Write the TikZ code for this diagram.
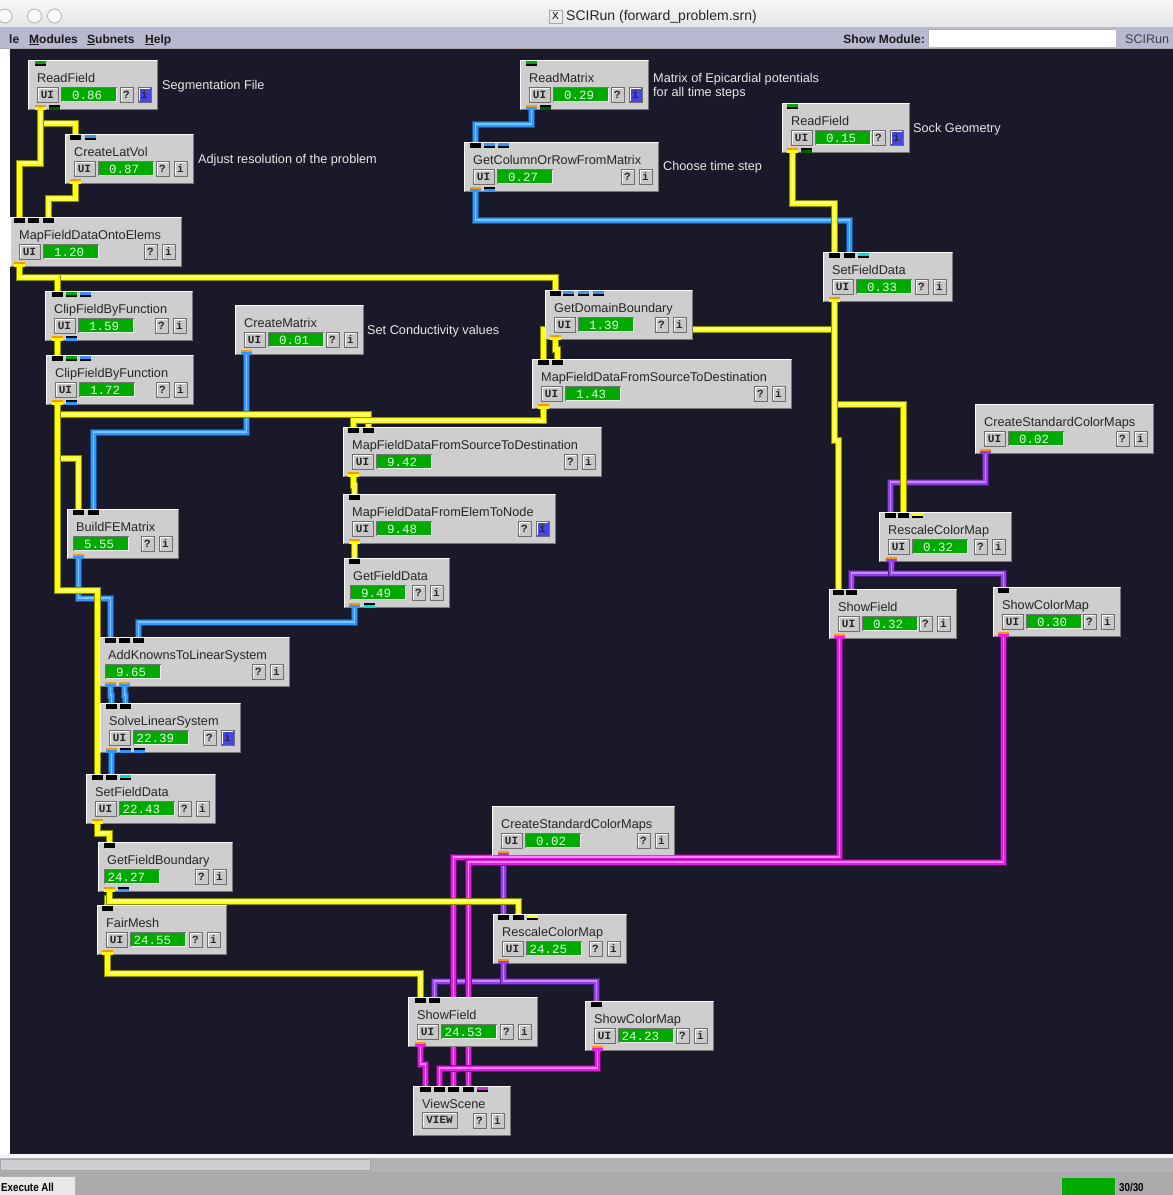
\documentclass[tikz,border=0pt]{standalone}
\usepackage{fontspec}
\setmainfont{Liberation Sans}
\setmonofont{Liberation Mono}
\pgfdeclarelayer{back}
\pgfdeclarelayer{pipes}
\pgfsetlayers{back,pipes,main}
\definecolor{canvas}{RGB}{26,25,42}
\definecolor{modfill}{RGB}{206,206,206}
\definecolor{mdark}{RGB}{120,120,120}
\definecolor{bgray}{RGB}{200,200,200}
\definecolor{bdark}{RGB}{110,110,110}
\definecolor{iblue}{RGB}{70,70,230}
\definecolor{gbar}{RGB}{0,170,0}
\definecolor{numtxt}{RGB}{225,255,225}
\definecolor{anntxt}{RGB}{232,232,232}
\definecolor{pYel}{RGB}{255,255,0}
\definecolor{pYelD}{RGB}{140,140,0}
\definecolor{pYelL}{RGB}{255,255,150}
\definecolor{pBlue}{RGB}{50,150,255}
\definecolor{pBlueD}{RGB}{25,80,150}
\definecolor{pBlueL}{RGB}{130,195,255}
\definecolor{pPur}{RGB}{150,60,235}
\definecolor{pPurD}{RGB}{75,30,125}
\definecolor{pPurL}{RGB}{190,140,255}
\definecolor{pMag}{RGB}{225,30,225}
\definecolor{pMagD}{RGB}{115,15,115}
\definecolor{pMagL}{RGB}{255,130,255}
\definecolor{pOrange}{RGB}{255,150,0}
\definecolor{pGreen}{RGB}{0,170,0}
\definecolor{pDGreen}{RGB}{0,90,0}
\definecolor{pCyan}{RGB}{0,220,220}
\definecolor{menubg}{RGB}{184,184,208}
\definecolor{tbTop}{RGB}{247,247,247}
\definecolor{tbBot}{RGB}{228,228,228}
\definecolor{botbar}{RGB}{170,170,172}
\definecolor{trough}{RGB}{178,178,182}
\definecolor{thumb}{RGB}{206,206,210}
\newcommand{\tfont}{\fontsize{12.7}{15}\selectfont}
\newcommand{\nfont}{\ttfamily\fontsize{12.5}{15}\selectfont}
\newcommand{\bfont}{\ttfamily\bfseries\fontsize{11}{13}\selectfont}
\newcommand{\mfont}{\bfseries\fontsize{12}{14}\selectfont}
\tikzset{
 modbox/.style={fill=modfill,draw=none,inner sep=0pt,outer sep=0pt},
 ttext/.style={font=\tfont,text=black!85,anchor=base west,inner sep=0pt},
 ann/.style={font=\tfont,text=anntxt,anchor=base west,inner sep=0pt},
 btext/.style={font=\bfont,text=black!85,inner sep=0pt},
 ntext/.style={font=\nfont,text=numtxt,anchor=base west,inner sep=0pt},
 menutext/.style={font=\mfont,text=black!90,anchor=base west,inner sep=0pt},
 pipebase/.style={line join=miter,line cap=butt},
 ypipe/.style={pipebase,draw=pYel,line width=5pt,preaction={draw=pYelD,line width=7pt},postaction={draw=pYelL,line width=1.1pt}},
 bpipe/.style={pipebase,draw=pBlue,line width=5pt,preaction={draw=pBlueD,line width=7pt},postaction={draw=pBlueL,line width=1.1pt}},
 ppipe/.style={pipebase,draw=pPur,line width=5pt,preaction={draw=pPurD,line width=7pt},postaction={draw=pPurL,line width=1.1pt}},
 mpipe/.style={pipebase,draw=pMag,line width=5pt,preaction={draw=pMagD,line width=7pt},postaction={draw=pMagL,line width=1.1pt}},
}
\newcommand{\mybtn}[7]{%
 \filldraw[fill=#7,draw=bdark,line width=0.8pt] (#2,#3) rectangle (#4,#5);
 \draw[white,line width=0.8pt] (#2+1.2,#5-1.2) -- (#2+1.2,#3+1.2) -- (#4-1.2,#3+1.2);
 \node[btext] (#1) at ({(#2+#4)/2},{(#3+#5)/2}) {#6};}
\newcommand{\mygbar}[3]{%
 \fill[gbar] (#2,27) rectangle (#2+56,42);
 \draw[black!55,line width=0.8pt] (#2+0.4,42) -- (#2+0.4,27.4) -- (#2+56,27.4);
 \draw[white!85!gray,line width=0.8pt] (#2+0.8,41.6) -- (#2+55.6,41.6) -- (#2+55.6,27.8);
 \node[ntext] (#1-n) at (#2+3.5,39) {#3};}
\newcommand{\mymod}[8]{%
 \pgfmathsetmacro{\mw}{#4-#2}%
 \begin{scope}[shift={(#2,#3)}]
  \node[modbox,minimum width=\mw pt,minimum height=50pt,anchor=north west] (#1) at (0,0) {};
  \draw[white,line width=1.4pt] (0.7,49.3) -- (0.7,0.7) -- (\mw-0.7,0.7);
  \draw[mdark,line width=1.4pt] (0.7,49.3) -- (\mw-0.7,49.3) -- (\mw-0.7,0.7);
  \node[ttext] (#1-t) at (9,22) {#5};
  \ifcase#6\relax
   \mygbar{#1}{6}{#7}%
  \or
   \mybtn{#1-ui}{9}{27}{30}{42}{UI}{bgray}%
   \mygbar{#1}{33}{#7}%
  \or
   \mybtn{#1-ui}{9}{26}{44}{42}{VIEW}{bgray}%
  \fi
  \mybtn{#1-q}{\mw-38}{27}{\mw-25}{42}{?}{bgray}%
  \ifnum#8=1\relax
   \mybtn{#1-i}{\mw-20}{27}{\mw-7}{42}{i}{iblue}%
  \else
   \mybtn{#1-i}{\mw-20}{27}{\mw-7}{42}{i}{bgray}%
  \fi
 \end{scope}}
\newcommand{\inpt}[4]{%
 \fill[#4] (#2,#3+0.5) rectangle (#2+11,#3+3.5);
 \fill[black] (#2,#3+3.5) rectangle (#2+11,#3+5.5);
 \coordinate (#1) at (#2+5.5,#3);}
\newcommand{\outpt}[5]{%
 \fill[#4] (#2,#3-5.5) rectangle (#2+11,#3-3);
 \fill[#5] (#2,#3-3) rectangle (#2+11,#3-0.5);
 \coordinate (#1) at (#2+5.5,#3);}
\begin{document}
\begin{tikzpicture}[x=1pt,y=-1pt]
\useasboundingbox (0,0) rectangle (1173,1195);
\begin{pgfonlayer}{back}
\fill[white] (0,0) rectangle (1173,1195);
% title bar
\shade[top color=tbTop,bottom color=tbBot] (0,0) rectangle (1173,28);
\draw[gray!60,line width=0.8pt,fill=white!96!gray] (5,16) circle[radius=7pt];
\draw[gray!60,line width=0.8pt,fill=white!96!gray] (34.5,16) circle[radius=7pt];
\draw[gray!60,line width=0.8pt,fill=white!96!gray] (54.5,16) circle[radius=7pt];
% menu bar
\fill[menubg] (0,27) rectangle (1173,48);
\draw[gray!50,line width=0.8pt] (0,27.4) -- (1173,27.4);
\draw[gray!70,line width=1pt] (0,48.5) -- (1173,48.5);
\fill[white] (928,29.5) rectangle (1116,47);
\draw[gray!60,line width=0.8pt] (928,47) -- (928,29.5) -- (1116,29.5);
% canvas
\fill[canvas] (10,49) rectangle (1173,1154);
% bottom
\fill[white!92!gray] (0,1154) rectangle (1173,1158);
\fill[trough] (0,1158) rectangle (1173,1172);
\filldraw[fill=thumb,draw=gray!70,line width=0.8pt] (0,1159.5) rectangle (370,1170.5);
\fill[botbar] (0,1172) rectangle (1173,1195);
\filldraw[fill=white!82!gray,draw=gray!60,line width=0.8pt] (-1,1176) rectangle (75,1196);
\filldraw[fill=gbar,draw=gray!60,line width=1pt] (1061,1177) rectangle (1115,1196);
\end{pgfonlayer}
% title and menu texts
\node[draw=gray!70,line width=0.8pt,minimum width=13pt,minimum height=13pt,inner sep=0pt,font=\fontsize{10}{10}\selectfont] (xicon) at (555.5,16.5) {X};
\node[anchor=west,inner sep=0pt,font=\fontsize{14}{16}\selectfont,text=black!85] (wtitle) at (566,16.5) {SCIRun (forward\_problem.srn)};
\node[menutext] (mfile) at (9,43) {le};
\node[menutext] (mmod) at (29,43) {\underline{M}odules};
\node[menutext] (msub) at (87,43) {\underline{S}ubnets};
\node[menutext] (mhelp) at (145,43) {\underline{H}elp};
\node[menutext,anchor=base east] (mshow) at (925,43) {Show Module:};
\node[anchor=base west,inner sep=0pt,font=\fontsize{12.5}{14}\selectfont,text=black!75] (mapp) at (1125,43) {SCIRun};
\node[anchor=base west,inner sep=0pt,font=\bfseries\fontsize{11.5}{13}\selectfont,text=black] (exec) at (1,1191) {\scalebox{0.85}[1]{Execute All}};
\node[anchor=base west,inner sep=0pt,font=\bfseries\fontsize{11.5}{13}\selectfont,text=black] (cnt) at (1119,1191) {\scalebox{0.85}[1]{30/30}};

% ---------------- modules ----------------
\mymod{rf1}{28}{60}{158}{ReadField}{1}{\phantom{0}0.86}{1}
\mymod{clv}{65}{134}{194}{CreateLatVol}{1}{\phantom{0}0.87}{0}
\mymod{mfoe}{10}{217}{182}{MapFieldDataOntoElems}{1}{\phantom{0}1.20}{0}
\mymod{rm}{520}{60}{649}{ReadMatrix}{1}{\phantom{0}0.29}{1}
\mymod{gcr}{464}{142}{659}{GetColumnOrRowFromMatrix}{1}{\phantom{0}0.27}{0}
\mymod{rf2}{782}{103}{910}{ReadField}{1}{\phantom{0}0.15}{1}
\mymod{sfd1}{823}{252}{953}{SetFieldData}{1}{\phantom{0}0.33}{0}
\mymod{cf1}{45}{291}{193}{ClipFieldByFunction}{1}{\phantom{0}1.59}{0}
\mymod{cf2}{46}{355}{194}{ClipFieldByFunction}{1}{\phantom{0}1.72}{0}
\mymod{cm}{235}{305}{364}{CreateMatrix}{1}{\phantom{0}0.01}{0}
\mymod{gdb}{545}{290}{693}{GetDomainBoundary}{1}{\phantom{0}1.39}{0}
\mymod{mfd1}{532}{359}{792}{MapFieldDataFromSourceToDestination}{1}{\phantom{0}1.43}{0}
\mymod{mfd2}{343}{427}{602}{MapFieldDataFromSourceToDestination}{1}{\phantom{0}9.42}{0}
\mymod{mfe}{343}{494}{556}{MapFieldDataFromElemToNode}{1}{\phantom{0}9.48}{1}
\mymod{gfd}{344}{558}{450}{GetFieldData}{0}{\phantom{0}9.49}{0}
\mymod{bfe}{67}{509}{179}{BuildFEMatrix}{0}{\phantom{0}5.55}{0}
\mymod{ak}{99}{637}{290}{AddKnownsToLinearSystem}{0}{\phantom{0}9.65}{0}
\mymod{sls}{100}{703}{241}{SolveLinearSystem}{1}{22.39}{1}
\mymod{sfd2}{86}{774}{216}{SetFieldData}{1}{22.43}{0}
\mymod{gfb}{98}{842}{233}{GetFieldBoundary}{0}{24.27}{0}
\mymod{fm}{97}{905}{227}{FairMesh}{1}{24.55}{0}
\mymod{cscm2}{492}{806}{675}{CreateStandardColorMaps}{1}{\phantom{0}0.02}{0}
\mymod{rcm2}{493}{914}{627}{RescaleColorMap}{1}{24.25}{0}
\mymod{sf2}{408}{997}{538}{ShowField}{1}{24.53}{0}
\mymod{scm2}{585}{1001}{714}{ShowColorMap}{1}{24.23}{0}
\mymod{vs}{413}{1086}{511}{ViewScene}{2}{}{0}
\mymod{cscm1}{975}{404}{1154}{CreateStandardColorMaps}{1}{\phantom{0}0.02}{0}
\mymod{rcm1}{879}{512}{1012}{RescaleColorMap}{1}{\phantom{0}0.32}{0}
\mymod{sf1}{829}{589}{957}{ShowField}{1}{\phantom{0}0.32}{0}
\mymod{scm1}{993}{587}{1121}{ShowColorMap}{1}{\phantom{0}0.30}{0}

% ---------------- annotations ----------------
\node[ann] (a1) at (162,89) {Segmentation File};
\node[ann] (a2) at (198,163) {Adjust resolution of the problem};
\node[ann] (a3) at (653,82) {Matrix of Epicardial potentials};
\node[ann] (a4) at (653,96) {for all time steps};
\node[ann] (a5) at (663,170) {Choose time step};
\node[ann] (a6) at (913,132) {Sock Geometry};
\node[ann] (a7) at (367,334) {Set Conductivity values};

% ---------------- ports ----------------
\inpt{rf1-i1}{35}{60}{pGreen}
\outpt{rf1-o1}{35}{110}{pOrange}{pYel}
\outpt{rf1-o2}{49}{110}{black}{pDGreen}
\inpt{clv-i1}{70}{134}{black}
\inpt{clv-i2}{85}{134}{pBlue}
\outpt{clv-o1}{70}{184}{pOrange}{pYel}
\inpt{mfoe-i1}{14}{217}{black}
\inpt{mfoe-i2}{28}{217}{black}
\inpt{mfoe-i3}{43}{217}{black}
\outpt{mfoe-o1}{14}{267}{pOrange}{pYel}
\inpt{rm-i1}{526}{60}{pGreen}
\outpt{rm-o1}{526}{110}{pOrange}{pBlue}
\outpt{rm-o2}{540}{110}{black}{pDGreen}
\inpt{gcr-i1}{470}{142}{black}
\inpt{gcr-i2}{484}{142}{pBlue}
\inpt{gcr-i3}{498}{142}{pBlue}
\outpt{gcr-o1}{470}{192}{pOrange}{pBlue}
\outpt{gcr-o2}{484}{192}{black}{pBlue}
\inpt{rf2-i1}{787}{103}{pGreen}
\outpt{rf2-o1}{787}{153}{pOrange}{pYel}
\outpt{rf2-o2}{801}{153}{black}{pDGreen}
\inpt{sfd1-i1}{829}{252}{black}
\inpt{sfd1-i2}{844}{252}{black}
\inpt{sfd1-i3}{858}{252}{pCyan}
\outpt{sfd1-o1}{829}{302}{pOrange}{pYel}
\inpt{cf1-i1}{52}{291}{black}
\inpt{cf1-i2}{66}{291}{pGreen}
\inpt{cf1-i3}{80}{291}{pBlue}
\outpt{cf1-o1}{52}{341}{pOrange}{pYel}
\outpt{cf1-o2}{66}{341}{black}{pBlue}
\inpt{cf2-i1}{52}{355}{black}
\inpt{cf2-i2}{66}{355}{pGreen}
\inpt{cf2-i3}{80}{355}{pBlue}
\outpt{cf2-o1}{52}{405}{pOrange}{pYel}
\outpt{cf2-o2}{66}{405}{black}{pBlue}
\outpt{cm-o1}{241}{355}{pOrange}{pBlue}
\inpt{gdb-i1}{550}{290}{black}
\inpt{gdb-i2}{563}{290}{pBlue}
\inpt{gdb-i3}{578}{290}{pBlue}
\inpt{gdb-i4}{593}{290}{pBlue}
\outpt{gdb-o1}{550}{340}{pOrange}{pYel}
\inpt{mfd1-i1}{538}{359}{black}
\inpt{mfd1-i2}{552}{359}{black}
\outpt{mfd1-o1}{538}{409}{pOrange}{pYel}
\inpt{mfd2-i1}{348}{427}{black}
\inpt{mfd2-i2}{363}{427}{black}
\outpt{mfd2-o1}{348}{477}{pOrange}{pYel}
\inpt{mfe-i1}{349}{494}{black}
\outpt{mfe-o1}{349}{544}{pOrange}{pYel}
\inpt{gfd-i1}{349}{558}{black}
\outpt{gfd-o1}{349}{608}{pOrange}{pBlue}
\outpt{gfd-o2}{364}{608}{black}{pCyan}
\inpt{bfe-i1}{73}{509}{black}
\inpt{bfe-i2}{88}{509}{black}
\outpt{bfe-o1}{73}{559}{pOrange}{pBlue}
\inpt{ak-i1}{105}{637}{black}
\inpt{ak-i2}{119}{637}{black}
\inpt{ak-i3}{133}{637}{black}
\outpt{ak-o1}{105}{687}{pOrange}{pBlue}
\outpt{ak-o2}{119}{687}{pOrange}{pBlue}
\inpt{sls-i1}{106}{703}{black}
\inpt{sls-i2}{120}{703}{black}
\outpt{sls-o1}{106}{753}{pOrange}{pBlue}
\outpt{sls-o2}{120}{753}{black}{pBlue}
\outpt{sls-o3}{134}{753}{black}{pBlue}
\inpt{sfd2-i1}{92}{774}{black}
\inpt{sfd2-i2}{106}{774}{black}
\inpt{sfd2-i3}{120}{774}{pCyan}
\outpt{sfd2-o1}{92}{824}{pOrange}{pYel}
\inpt{gfb-i1}{104}{842}{black}
\outpt{gfb-o1}{104}{892}{pOrange}{pYel}
\outpt{gfb-o2}{118}{892}{black}{pBlue}
\inpt{fm-i1}{102}{905}{black}
\outpt{fm-o1}{102}{955}{pOrange}{pYel}
\outpt{cscm2-o1}{498}{856}{pOrange}{pPur}
\inpt{rcm2-i1}{498}{914}{black}
\inpt{rcm2-i2}{513}{914}{black}
\inpt{rcm2-i3}{527}{914}{pYel}
\outpt{rcm2-o1}{498}{964}{pOrange}{pPur}
\inpt{sf2-i1}{415}{997}{black}
\inpt{sf2-i2}{429}{997}{black}
\outpt{sf2-o1}{415}{1047}{pOrange}{pMag}
\inpt{scm2-i1}{591}{1001}{black}
\outpt{scm2-o1}{592}{1051}{pOrange}{pMag}
\inpt{vs-i1}{420}{1086}{black}
\inpt{vs-i2}{434}{1086}{black}
\inpt{vs-i3}{448}{1086}{black}
\inpt{vs-i4}{463}{1086}{black}
\inpt{vs-i5}{477}{1086}{pMag}
\outpt{cscm1-o1}{980}{454}{pOrange}{pPur}
\inpt{rcm1-i1}{885}{512}{black}
\inpt{rcm1-i2}{898}{512}{black}
\inpt{rcm1-i3}{912}{512}{pYel}
\outpt{rcm1-o1}{886}{562}{pOrange}{pPur}
\inpt{sf1-i1}{833}{589}{black}
\inpt{sf1-i2}{846}{589}{black}
\outpt{sf1-o1}{834}{639}{pOrange}{pMag}
\inpt{scm1-i1}{998}{587}{black}
\outpt{scm1-o1}{998}{637}{pOrange}{pMag}

% ---------------- pipes ----------------
\begin{pgfonlayer}{pipes}
% purple
\draw[ppipe] (cscm1-o1) -- ++(0,28) -| (rcm1-i1);
\draw[ppipe] (rcm1-o1) -- ++(0,11) -| (sf1-i2);
\draw[ppipe] (rcm1-o1) -- ++(0,11) -| (scm1-i1);
\draw[ppipe] (cscm2-o1) -- (rcm2-i1);
\draw[ppipe] (rcm2-o1) -- ++(0,17) -| (sf2-i2);
\draw[ppipe] (rcm2-o1) -- ++(0,17) -| (scm2-i1);
% blue
\draw[bpipe] (rm-o1) -- ++(0,14) -| (gcr-i1);
\draw[bpipe] (gcr-o1) -- ++(0,28) -| (sfd1-i2);
\draw[bpipe] (cm-o1) -- ++(0,77) -| (bfe-i2);
\draw[bpipe] (bfe-o1) -- ++(0,39) -| (ak-i1);
\draw[bpipe] (gfd-o1) -- ++(0,14) -| (ak-i3);
\draw[bpipe] (ak-o1) -- ++(0,8) -| (sls-i1);
\draw[bpipe] (ak-o2) -- ++(0,8) -| (sls-i2);
\draw[bpipe] (sls-o1) -- (sfd2-i2);
% magenta
\draw[mpipe] (sf1-o1) -- ++(0,218) -| (vs-i3);
\draw[mpipe] (scm1-o1) -- ++(0,225) -| (vs-i4);
\draw[mpipe] (sf2-o1) -- ++(0,17) -| (vs-i1);
\draw[mpipe] (scm2-o1) -- ++(0,17) -| (vs-i2);
% yellow
\draw[ypipe] (rf1-o1) -- ++(0,13) -| (clv-i1);
\draw[ypipe] (rf1-o1) -- ++(0,53) -| (mfoe-i1);
\draw[ypipe] (clv-o1) -- ++(0,14) -| (mfoe-i3);
\draw[ypipe] (mfoe-o1) -- ++(0,10) -| (gdb-i1);
\draw[ypipe] (mfoe-o1) -- ++(0,10) -| (cf1-i1);
\draw[ypipe] (cf1-o1) -- (cf2-i1);
\draw[ypipe] (cf2-o1) -- ++(0,9) -| (mfd2-i2);
\draw[ypipe] (mfd1-o1) -- ++(0,11) -| (mfd2-i1);
\draw[ypipe] (sfd1-o1) -- ++(0,27) -| (mfd1-i1);
\draw[ypipe] (gdb-o1) -- ++(0,9) -| (mfd1-i2);
\draw[ypipe] (sfd1-o1) -- ++(0,102) -| (rcm1-i2);
\draw[ypipe] (sfd1-o1) -- ++(0,138) -| (sf1-i1);
\draw[ypipe] (rf2-o1) -- ++(0,50) -| (sfd1-i1);
\draw[ypipe] (mfd2-o1) -- ++(0,8) -| (mfe-i1);
\draw[ypipe] (mfe-o1) -- (gfd-i1);
\draw[ypipe] (cf2-o1) -- ++(0,53) -| (bfe-i1);
\draw[ypipe] (cf2-o1) -- ++(0,185) -| (sfd2-i1);
\draw[ypipe] (sfd2-o1) -- ++(0,9) -| (gfb-i1);
\draw[ypipe] (gfb-o1) -- ++(0,6) -| (fm-i1);
\draw[ypipe] (gfb-o1) -- ++(0,9) -| (rcm2-i2);
\draw[ypipe] (fm-o1) -- ++(0,18) -| (sf2-i1);
\end{pgfonlayer}
\end{tikzpicture}
\end{document}
